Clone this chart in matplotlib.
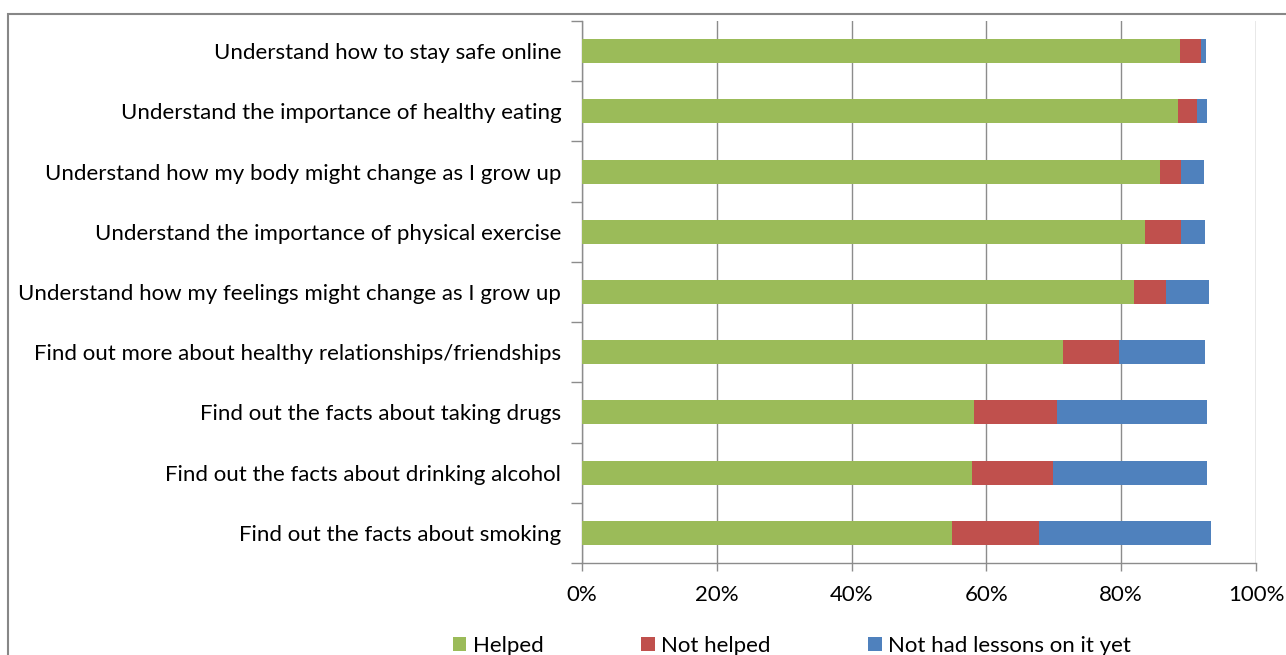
import matplotlib.pyplot as plt
from matplotlib.patches import Rectangle
import numpy as np

# categories listed bottom -> top
categories = [
    "Find out the facts about smoking",
    "Find out the facts about drinking alcohol",
    "Find out the facts about taking drugs",
    "Find out more about healthy relationships/friendships",
    "Understand how my feelings might change as I grow up",
    "Understand the importance of physical exercise",
    "Understand how my body might change as I grow up",
    "Understand the importance of healthy eating",
    "Understand how to stay safe online",
]
helped = [54.9, 57.9, 58.2, 71.3, 81.9, 83.6, 85.7, 88.5, 88.7]
not_helped = [12.9, 12.0, 12.3, 8.3, 4.8, 5.3, 3.2, 2.7, 3.1]
no_lessons = [25.5, 22.9, 22.3, 12.9, 6.3, 3.6, 3.4, 1.6, 0.8]
series_names = ["Helped", "Not helped", "Not had lessons on it yet"]
colors = ["#9BBB59", "#C0504D", "#4F81BD"]

plt.rcParams['font.family'] = ['Lato', 'DejaVu Sans']
fs = 16
grey = "#8C8C8C"

fig = plt.figure(figsize=(12.86, 6.55), dpi=100)
W, H = 1286, 655
ax = fig.add_axes([582 / W, 1 - 563 / H, (1256 - 582) / W, (563 - 21) / H])

# outer chart frame (cropped at right and bottom)
fig.patches.append(Rectangle((8 / W, -0.1), 1.2, 1.1 - 14 / H, transform=fig.transFigure,
                             fill=False, edgecolor="#878787", linewidth=1.5))

y = np.arange(len(categories))
left = np.zeros(len(categories))
for vals, name, c in zip([helped, not_helped, no_lessons], series_names, colors):
    ax.barh(y, vals, left=left, height=0.4, color=c, label=name, zorder=3)
    left = left + np.array(vals)

ax.set_xlim(0, 100)
ax.set_ylim(-0.5, len(categories) - 0.5)
ax.set_xticks(np.arange(0, 101, 20))
ax.set_xticklabels([f"{v}%" for v in range(0, 101, 20)], fontsize=fs)
ax.set_yticks(y)
ax.set_yticklabels(categories, fontsize=fs)
ax.set_yticks(np.arange(-0.5, len(categories), 1), minor=True)
ax.tick_params(axis='y', which='major', length=0, pad=15)
ax.tick_params(axis='y', which='minor', length=8, color=grey, width=1)
ax.tick_params(axis='x', length=6, color=grey, width=1, pad=10)
ax.grid(axis='x', color=grey, linewidth=1, zorder=0)
for s in ['top', 'right']:
    ax.spines[s].set_visible(False)
for s in ['left', 'bottom']:
    ax.spines[s].set_color(grey)
    ax.spines[s].set_linewidth(1)

fig.legend(loc='center', bbox_to_anchor=(792 / W, 1 - 646 / H), ncol=3, frameon=False,
           fontsize=fs, handlelength=0.6, handleheight=0.6, handletextpad=0.3,
           columnspacing=4.4)

fig.savefig("out.png", dpi=100)
